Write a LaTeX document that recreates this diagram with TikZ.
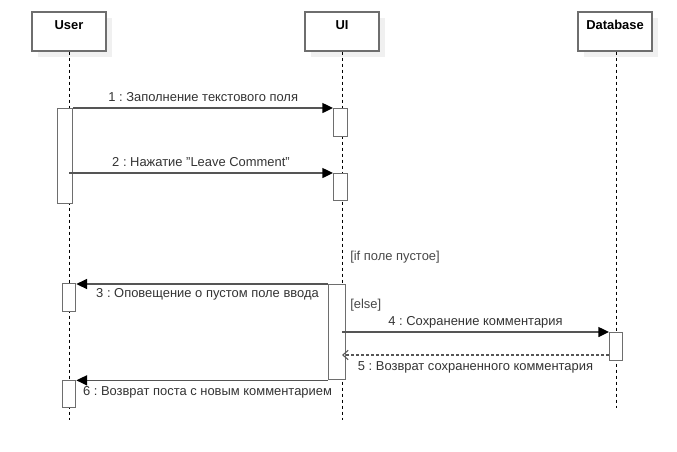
\documentclass[tikz,border=0pt]{standalone}
\usepackage{fontspec}
\setmainfont{Liberation Sans}
\usetikzlibrary{arrows.meta,shadows}
\definecolor{boxgray}{HTML}{6E6E6E}
\definecolor{linegray}{HTML}{555555}
\definecolor{txtgray}{HTML}{333333}
\frenchspacing

\begin{document}
\begin{tikzpicture}[x=0.75pt, y=-0.75pt,
        every node/.style={font=\fontsize{9.7}{11}\selectfont, text=txtgray},
        head/.style={rectangle, draw=boxgray, line width=1pt, fill=white, minimum width=55.5pt, minimum height=29.25pt, inner sep=0pt, text height=7pt, text depth=9.75pt, text=black, font=\fontsize{9.7}{11}\selectfont\bfseries, general shadow={fill=black!6, shadow xshift=4.5pt, shadow yshift=-4.5pt}},
        act/.style 2 args={rectangle, draw=boxgray, line width=1pt, fill=white, inner sep=0pt, anchor=north west, minimum width=#1*0.75pt, minimum height=#2*0.75pt},
        life/.style={black, line width=0.75pt, dash pattern=on 2.25pt off 2.25pt},
        lbl/.style={inner sep=0pt, text height=7pt, text depth=2pt},
        guard/.style={inner sep=0pt, anchor=west, text=txtgray!90},
        msg/.style={-{Triangle[length=8pt, width=7.5pt, fill=black, color=black]}, linegray, line width=1pt},
        reply/.style={-{Straight Barb[length=4pt, width=7pt]}, linegray, line width=0.8pt, dash pattern=on 2.25pt off 1.5pt}
    ]
    \useasboundingbox (0,0) rectangle (677,451);
    % heads and lifelines
    \node[head] (user) at (69,31.5) {User};
    \node[head] (ui) at (342,31.5) {UI};
    \node[head] (db) at (615,31.5) {Database};
    \coordinate (uend) at (69,420);
    \coordinate (iend) at (342,420);
    \coordinate (dend) at (616,408);
    \draw[life] (user.south) -- (uend);
    \draw[life] (ui.south) -- (iend);
    \draw[life] (db.south -| dend) -- (dend);
    % activations
    \node[act={15}{95}] (ua1) at (57,108) {};
    \node[act={14}{28}] (ia1) at (333,108) {};
    \node[act={14}{27}] (ia2) at (333,173) {};
    \node[act={17}{95}] (ib) at (328,284) {};
    \node[act={13}{28}] (ua2) at (62,283) {};
    \node[act={13}{28}] (da) at (609,332) {};
    \node[act={13}{27}] (ua3) at (62,380) {};
    % guards
    \node[guard] (g1) at (350,257) {[if поле пустое]};
    \node[guard] (g2) at (350,305) {[else]};
    % messages
    \draw[msg] (ua1.north east) -- node[lbl, above=2.5pt] {1 : Заполнение текстового поля} (ia1.north west);
    \draw[msg] (ia2.north west -| user) -- node[lbl, above=2.5pt] {2 : Нажатие "Leave Comment"} (ia2.north west);
    \draw[msg] (ib.north west) -- node[lbl, below=2.75pt, xshift=4pt] {3 : Оповещение о пустом поле ввода} (ib.north west -| ua2.east);
    \draw[msg] (da.north west -| ui) -- node[lbl, above=2.5pt] {4 : Сохранение комментария} (da.north west);
    \coordinate (r5) at (609,355);
    \draw[reply] (r5) -- node[lbl, below=4.25pt] {5 : Возврат сохраненного комментария} (r5 -| ui);
    \draw[msg] (ib.south west) -- node[lbl, below=3.5pt, xshift=4pt] {6 : Возврат поста с новым комментарием} (ib.south west -| ua3.east);
\end{tikzpicture}
\end{document}
